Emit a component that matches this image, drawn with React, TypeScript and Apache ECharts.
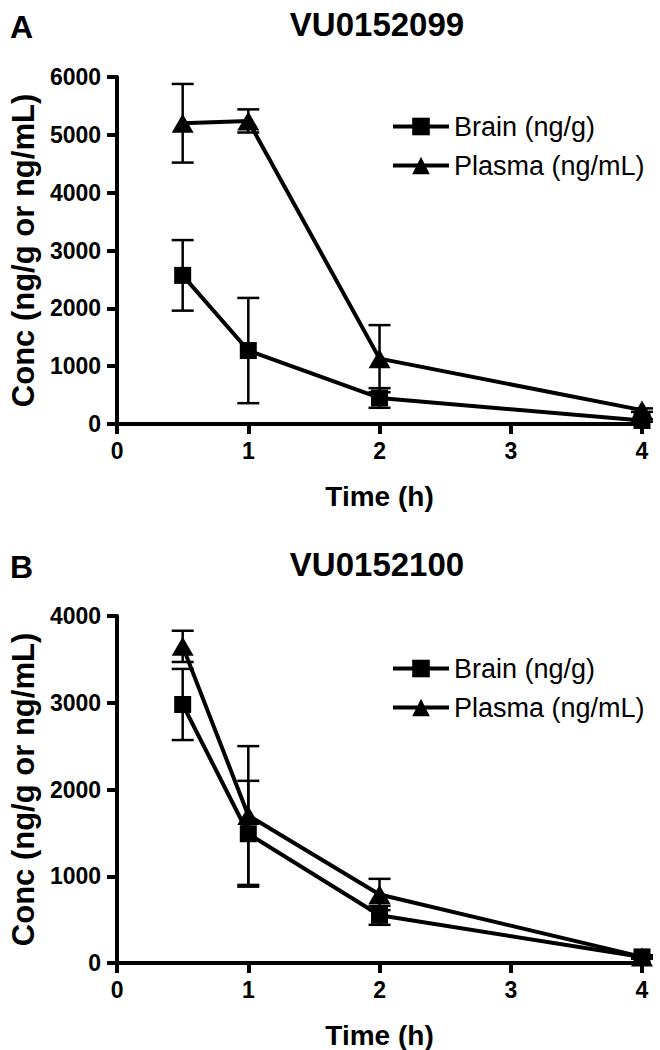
import React, { useEffect, useRef } from "react";
import * as echarts from "echarts";

// ---- Data ----
const timePoints = [0.5, 1, 2, 4];

const titleA = "VU0152099";
const brainA = [2570, 1270, 450, 60];
const brainAErr = [610, 910, 170, 20];
const plasmaA = [5200, 5240, 1130, 240];
const plasmaAErr = [680, 200, 580, 30];

const titleB = "VU0152100";
const brainB = [2980, 1490, 550, 70];
const brainBErr = [410, 610, 110, 20];
const plasmaB = [3650, 1700, 790, 70];
const plasmaBErr = [180, 800, 180, 15];

const seriesNames = ["Brain (ng/g)", "Plasma (ng/mL)"];
const yNameText = "Conc (ng/g or ng/mL)";
const xNameText = "Time (h)";

const FONT = "'Liberation Sans', Arial, Helvetica, sans-serif";

const pts = (vals: number[]) => timePoints.map((t, i) => [t, vals[i]]);
const errPts = (vals: number[], err: number[]) =>
  timePoints.map((t, i) => [t, vals[i] - err[i], vals[i] + err[i]]);

const errRender = (params: any, api: any) => {
  const x = api.value(0);
  const lo = api.coord([x, api.value(1)]);
  const hi = api.coord([x, api.value(2)]);
  const half = 11;
  const st = { stroke: "#000", lineWidth: 2.5 };
  return {
    type: "group",
    children: [
      { type: "line", shape: { x1: hi[0], y1: hi[1], x2: lo[0], y2: lo[1] }, style: st },
      { type: "line", shape: { x1: hi[0] - half, y1: hi[1], x2: hi[0] + half, y2: hi[1] }, style: st },
      { type: "line", shape: { x1: lo[0] - half, y1: lo[1], x2: lo[0] + half, y2: lo[1] }, style: st },
    ],
  };
};

export default function App() {
  const ref = useRef<HTMLDivElement>(null);
  useEffect(() => {
    if (!ref.current) return;
    const chart = echarts.init(ref.current, null, { renderer: "svg" });

    const grids = [
      { left: 117, right: 18, top: 77, height: 347 },
      { left: 117, right: 18, top: 616, height: 348 },
    ];
    const xAxisBase = (gi: number) => ({
      type: "value",
      gridIndex: gi,
      min: 0,
      max: 4,
      interval: 1,
      name: xNameText,
      nameLocation: "middle",
      nameGap: 58,
      nameTextStyle: { fontFamily: FONT, fontWeight: "bold", fontSize: 28, color: "#000" },
      axisLine: { show: true, lineStyle: { color: "#000", width: 4 } },
      axisTick: { show: true, length: 10, lineStyle: { color: "#000", width: 4 } },
      axisLabel: { fontFamily: FONT, fontWeight: "bold", fontSize: 23, color: "#000", margin: 15 },
      splitLine: { show: false },
    });
    const yAxisBase = (gi: number, max: number) => ({
      type: "value",
      gridIndex: gi,
      min: 0,
      max,
      interval: 1000,
      name: yNameText,
      nameLocation: "middle",
      nameGap: 74,
      nameTextStyle: { fontFamily: FONT, fontWeight: "bold", fontSize: 31, color: "#000" },
      axisLine: { show: true, lineStyle: { color: "#000", width: 4 } },
      axisTick: { show: true, length: 10, lineStyle: { color: "#000", width: 4 } },
      axisLabel: {
        fontFamily: FONT,
        fontWeight: "bold",
        fontSize: 23,
        color: "#000",
        margin: 16,
        formatter: (v: number) => String(v),
      },
      splitLine: { show: false },
    });

    const lineSeries = (name: string, gi: number, vals: number[], symbol: string, size: any) => ({
      name,
      type: "line",
      xAxisIndex: gi,
      yAxisIndex: gi,
      data: pts(vals),
      symbol,
      symbolSize: size,
      showAllSymbol: true,
      clip: false,
      z: 3,
      lineStyle: { color: "#000", width: 4 },
      itemStyle: { color: "#000" },
    });
    const errSeries = (name: string, gi: number, vals: number[], err: number[]) => ({
      name: name + " SD",
      type: "custom",
      xAxisIndex: gi,
      yAxisIndex: gi,
      data: errPts(vals, err),
      encode: { x: 0, y: [1, 2] },
      renderItem: errRender,
      clip: false,
      z: 2,
    });

    const legendBase = (top: number) => ({
      orient: "vertical",
      left: 386,
      top,
      data: seriesNames,
      itemWidth: 56,
      itemHeight: 22,
      itemGap: 12,
      lineStyle: { width: 4, color: "#000" },
      textStyle: { fontFamily: FONT, fontSize: 27, color: "#000", lineHeight: 26 },
      selectedMode: false,
    });

    const textEl = (text: string, x: number, y: number, size: number, align: string) => ({
      type: "text",
      x,
      y,
      style: {
        text,
        font: `bold ${size}px ${FONT}`,
        fill: "#000",
        textAlign: align,
        textVerticalAlign: "top",
      },
    });

    chart.setOption({
      animation: false,
      backgroundColor: "#fff",
      grid: grids,
      xAxis: [xAxisBase(0), xAxisBase(1)],
      yAxis: [yAxisBase(0, 6000), yAxisBase(1, 4000)],
      legend: [legendBase(108), legendBase(650)],
      graphic: [
        textEl("A", 10, 11, 32, "left"),
        textEl(titleA, 377, 8, 33, "center"),
        textEl("B", 10, 551, 32, "left"),
        textEl(titleB, 377, 548, 33, "center"),
      ],
      series: [
        errSeries(seriesNames[0], 0, brainA, brainAErr),
        errSeries(seriesNames[1], 0, plasmaA, plasmaAErr),
        lineSeries(seriesNames[0], 0, brainA, "rect", 17),
        lineSeries(seriesNames[1], 0, plasmaA, "triangle", [22, 19]),
        errSeries(seriesNames[0], 1, brainB, brainBErr),
        errSeries(seriesNames[1], 1, plasmaB, plasmaBErr),
        lineSeries(seriesNames[0], 1, brainB, "rect", 17),
        lineSeries(seriesNames[1], 1, plasmaB, "triangle", [22, 19]),
      ],
    });
    return () => chart.dispose();
  }, []);
  return (
    <div
      ref={ref}
      style={{ position: "absolute", left: 0, top: 0, width: 660, height: 1050, background: "#fff" }}
    />
  );
}
